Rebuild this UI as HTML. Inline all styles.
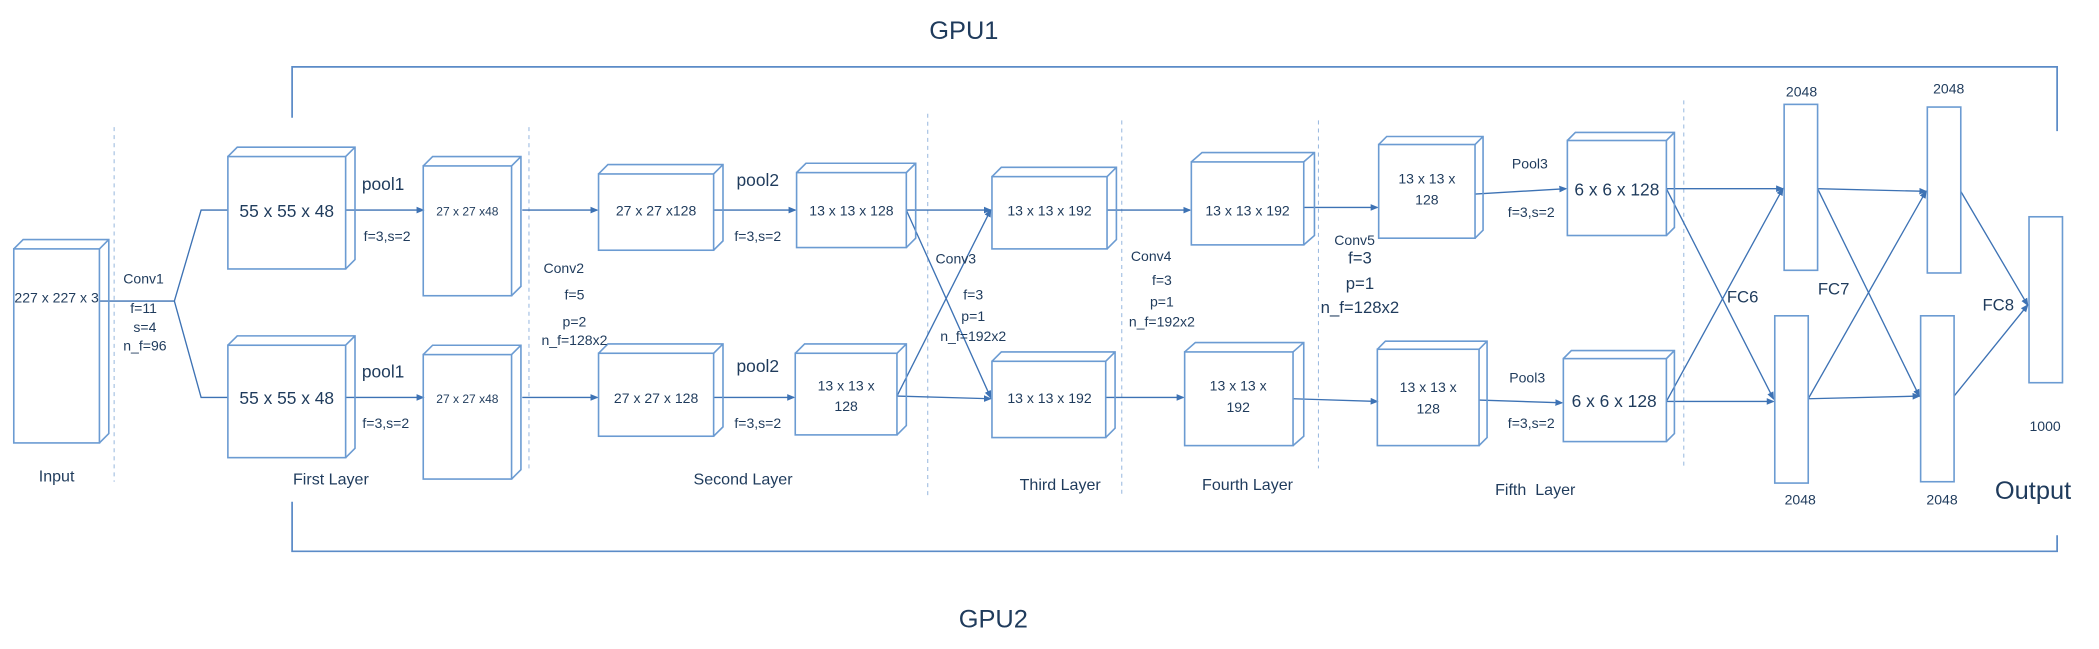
<!DOCTYPE html>
<html><head><meta charset="utf-8"><style>
html,body{margin:0;padding:0;background:#fff;}
svg{display:block;}
text{font-family:"Liberation Sans",sans-serif;fill:#1f3b5c;text-anchor:middle;}
</style></head><body>
<svg width="2099" height="649" viewBox="0 0 1568 485" xmlns="http://www.w3.org/2000/svg">
<defs>
<marker id="a" markerWidth="6" markerHeight="6" refX="5" refY="3" orient="auto" markerUnits="userSpaceOnUse"><path d="M0,0.5 L6,3 L0,5.5 Z" fill="#3d72b4"/></marker>
</defs>
<g stroke="#5b8bc7" stroke-width="1.3" fill="none">
<path d="M218 88 V50 H1537 V98"/>
<path d="M218 375 V412 H1537 V400"/>
</g>
<text x="720" y="29" font-size="19">GPU1</text>
<text x="742" y="469" font-size="19">GPU2</text>
<g stroke="#9dbbe0" stroke-width="0.8" stroke-dasharray="3,3">
<line x1="85" y1="95" x2="85" y2="360"/>
<line x1="395" y1="95" x2="395" y2="350"/>
<line x1="693" y1="85" x2="693" y2="370"/>
<line x1="838" y1="90" x2="838" y2="370"/>
<line x1="985" y1="90" x2="985" y2="350"/>
<line x1="1258" y1="75" x2="1258" y2="350"/>
</g>
<g stroke="#3d72b4" stroke-width="1" fill="none">
<path d="M74 225 H130 L150 157 H170"/>
<path d="M130 225 L150 297 H170"/>
<line x1="258" y1="157" x2="316" y2="157" marker-end="url(#a)"/>
<line x1="258" y1="297" x2="316" y2="297" marker-end="url(#a)"/>
<line x1="390" y1="157" x2="446" y2="157" marker-end="url(#a)"/>
<line x1="390" y1="297" x2="446" y2="297" marker-end="url(#a)"/>
<line x1="533" y1="157" x2="594" y2="157" marker-end="url(#a)"/>
<line x1="533" y1="297" x2="593" y2="297" marker-end="url(#a)"/>
<line x1="677" y1="157" x2="740" y2="157" marker-end="url(#a)"/>
<line x1="677" y1="157" x2="740" y2="297" marker-end="url(#a)"/>
<line x1="670" y1="296" x2="740" y2="157" marker-end="url(#a)"/>
<line x1="670" y1="296" x2="740" y2="298" marker-end="url(#a)"/>
<line x1="827" y1="157" x2="889" y2="157" marker-end="url(#a)"/>
<line x1="826" y1="297" x2="884" y2="297" marker-end="url(#a)"/>
<line x1="974" y1="155" x2="1029" y2="155" marker-end="url(#a)"/>
<line x1="966" y1="298" x2="1029" y2="300" marker-end="url(#a)"/>
<line x1="1102" y1="145" x2="1170" y2="141" marker-end="url(#a)"/>
<line x1="1105" y1="299" x2="1167" y2="301" marker-end="url(#a)"/>
<line x1="1245" y1="141" x2="1332" y2="141" marker-end="url(#a)"/>
<line x1="1245" y1="141" x2="1325" y2="298" marker-end="url(#a)"/>
<line x1="1245" y1="300" x2="1325" y2="300" marker-end="url(#a)"/>
<line x1="1245" y1="300" x2="1332" y2="141" marker-end="url(#a)"/>
<line x1="1358" y1="141" x2="1439" y2="143" marker-end="url(#a)"/>
<line x1="1358" y1="141" x2="1434" y2="296" marker-end="url(#a)"/>
<line x1="1351" y1="298" x2="1434" y2="296" marker-end="url(#a)"/>
<line x1="1351" y1="298" x2="1439" y2="143" marker-end="url(#a)"/>
<line x1="1465" y1="143" x2="1515" y2="228" marker-end="url(#a)"/>
<line x1="1460" y1="296" x2="1515" y2="228" marker-end="url(#a)"/>
</g>
<g stroke="#6b9bd2" stroke-width="1.2" fill="none">
<rect x="10" y="186" width="64" height="145"/><path d="M10 186 l7 -7 h64 v145 l-7 7 M74 186 l7 -7"/>
<rect x="170" y="117" width="88" height="84"/><path d="M170 117 l7 -7 h88 v84 l-7 7 M258 117 l7 -7"/>
<rect x="170" y="258" width="88" height="84"/><path d="M170 258 l7 -7 h88 v84 l-7 7 M258 258 l7 -7"/>
<rect x="316" y="124" width="66" height="97"/><path d="M316 124 l7 -7 h66 v97 l-7 7 M382 124 l7 -7"/>
<rect x="316" y="265" width="66" height="93"/><path d="M316 265 l7 -7 h66 v93 l-7 7 M382 265 l7 -7"/>
<rect x="447" y="130" width="86" height="57"/><path d="M447 130 l7 -7 h86 v57 l-7 7 M533 130 l7 -7"/>
<rect x="447" y="264" width="86" height="62"/><path d="M447 264 l7 -7 h86 v62 l-7 7 M533 264 l7 -7"/>
<rect x="595" y="129" width="82" height="56"/><path d="M595 129 l7 -7 h82 v56 l-7 7 M677 129 l7 -7"/>
<rect x="594" y="264" width="76" height="61"/><path d="M594 264 l7 -7 h76 v61 l-7 7 M670 264 l7 -7"/>
<rect x="741" y="132" width="86" height="54"/><path d="M741 132 l7 -7 h86 v54 l-7 7 M827 132 l7 -7"/>
<rect x="741" y="270" width="85" height="57"/><path d="M741 270 l7 -7 h85 v57 l-7 7 M826 270 l7 -7"/>
<rect x="890" y="121" width="84" height="62"/><path d="M890 121 l8 -7 h84 v62 l-8 7 M974 121 l8 -7"/>
<rect x="885" y="263" width="81" height="70"/><path d="M885 263 l8 -7 h81 v70 l-8 7 M966 263 l8 -7"/>
<rect x="1030" y="108" width="72" height="70"/><path d="M1030 108 l6 -6 h72 v70 l-6 6 M1102 108 l6 -6"/>
<rect x="1029" y="261" width="76" height="72"/><path d="M1029 261 l6 -6 h76 v72 l-6 6 M1105 261 l6 -6"/>
<rect x="1171" y="105" width="74" height="71"/><path d="M1171 105 l6 -6 h74 v71 l-6 6 M1245 105 l6 -6"/>
<rect x="1168" y="268" width="77" height="62"/><path d="M1168 268 l6 -6 h77 v62 l-6 6 M1245 268 l6 -6"/>
<rect x="1333" y="78" width="25" height="124"/>
<rect x="1326" y="236" width="25" height="125"/>
<rect x="1440" y="80" width="25" height="124"/>
<rect x="1435" y="236" width="25" height="124"/>
<rect x="1516" y="162" width="25" height="124"/>
</g>
<g font-size="10.5">
<text x="42" y="226">227 x 227 x 3</text>
<text x="349" y="161" font-size="9">27 x 27 x48</text>
<text x="349" y="301" font-size="9">27 x 27 x48</text>
<text x="490" y="161">27 x 27 x128</text>
<text x="490" y="301">27 x 27 x 128</text>
<text x="636" y="161">13 x 13 x 128</text>
<text x="632" y="292">13 x 13 x</text><text x="632" y="307">128</text>
<text x="784" y="161">13 x 13 x 192</text>
<text x="784" y="301">13 x 13 x 192</text>
<text x="932" y="161">13 x 13 x 192</text>
<text x="925" y="292">13 x 13 x</text><text x="925" y="308">192</text>
<text x="1066" y="137">13 x 13 x</text><text x="1066" y="153">128</text>
<text x="1067" y="293">13 x 13 x</text><text x="1067" y="309">128</text>
</g>
<g font-size="13">
<text x="214" y="162">55 x 55 x 48</text>
<text x="214" y="302">55 x 55 x 48</text>
<text x="1208" y="146">6 x 6 x 128</text>
<text x="1206" y="304">6 x 6 x 128</text>
<text x="286" y="142">pool1</text>
<text x="286" y="282">pool1</text>
<text x="566" y="139">pool2</text>
<text x="566" y="278">pool2</text>
</g>
<g font-size="10.5">
<text x="107" y="212">Conv1</text>
<text x="107" y="234">f=11</text>
<text x="108" y="248">s=4</text>
<text x="108" y="262">n_f=96</text>
<text x="289" y="180">f=3,s=2</text>
<text x="288" y="320">f=3,s=2</text>
<text x="421" y="204">Conv2</text>
<text x="429" y="224">f=5</text>
<text x="429" y="244">p=2</text>
<text x="429" y="258">n_f=128x2</text>
<text x="566" y="180">f=3,s=2</text>
<text x="566" y="320">f=3,s=2</text>
<text x="714" y="197">Conv3</text>
<text x="727" y="224">f=3</text>
<text x="727" y="240">p=1</text>
<text x="727" y="255">n_f=192x2</text>
<text x="860" y="195">Conv4</text>
<text x="868" y="213">f=3</text>
<text x="868" y="229">p=1</text>
<text x="868" y="244">n_f=192x2</text>
<text x="1012" y="183">Conv5</text>
<text x="1143" y="126">Pool3</text>
<text x="1141" y="286">Pool3</text>
<text x="1144" y="162">f=3,s=2</text>
<text x="1144" y="320">f=3,s=2</text>
<text x="1346" y="72">2048</text>
<text x="1345" y="377">2048</text>
<text x="1456" y="70">2048</text>
<text x="1451" y="377">2048</text>
<text x="1528" y="322">1000</text>
</g>
<g font-size="12.5">
<text x="1016" y="197">f=3</text>
<text x="1016" y="216">p=1</text>
<text x="1016" y="234">n_f=128x2</text>
<text x="1302" y="226">FC6</text>
<text x="1370" y="220">FC7</text>
<text x="1493" y="232">FC8</text>
</g>
<g font-size="12">
<text x="42" y="360">Input</text>
<text x="247" y="362">First Layer</text>
<text x="555" y="362">Second Layer</text>
<text x="792" y="366">Third Layer</text>
<text x="932" y="366">Fourth Layer</text>
<text x="1147" y="370">Fifth&#160; Layer</text>
</g>
<text x="1519" y="373" font-size="19">Output</text>
</svg>
</body></html>
